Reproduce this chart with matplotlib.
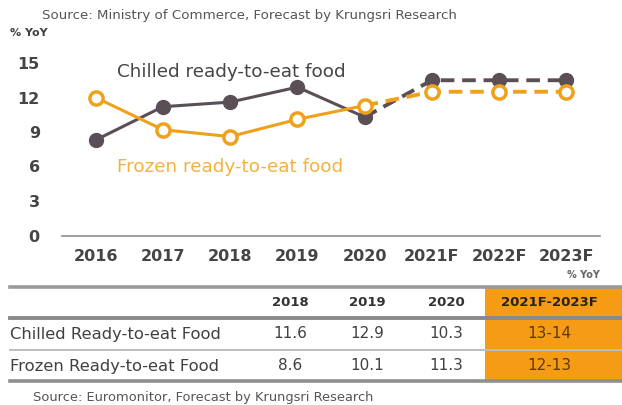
import matplotlib
matplotlib.use("Agg")
import matplotlib.pyplot as plt
from matplotlib.patches import Rectangle
from matplotlib.lines import Line2D

# ---- data ----
years = ["2016", "2017", "2018", "2019", "2020", "2021F", "2022F", "2023F"]
chilled = [8.3, 11.2, 11.6, 12.9, 10.3, 13.5, 13.5, 13.5]
frozen = [12.0, 9.2, 8.6, 10.1, 11.3, 12.5, 12.5, 12.5]
n_actual = 5  # 2016-2020 are actual, the rest are forecasts
yticks = [0, 3, 6, 9, 12, 15]

table_cols = ["2018", "2019", "2020", "2021F-2023F"]
table_rows = ["Chilled Ready-to-eat Food", "Frozen Ready-to-eat Food"]
table_chilled = ["11.6", "12.9", "10.3", "13-14"]
table_frozen = ["8.6", "10.1", "11.3", "12-13"]

# ---- style ----
FONT = "DejaVu Sans"
DARK = "#5b4f57"
ORANGE = "#f0a11c"
TEXT = "#404040"
W, H = 622, 405

fig = plt.figure(figsize=(W / 100, H / 100), dpi=100)
fig.patch.set_facecolor("white")


def fx(px):
    return px / W


def fy(py):
    return 1 - py / H


# ---- line chart ----
ax_l, ax_r, ax_t, ax_b = 62, 600, 63, 235.5
ax = fig.add_axes([fx(ax_l), fy(ax_b), fx(ax_r - ax_l), (ax_b - ax_t) / H])
x = list(range(len(years)))

ax.plot(x[:n_actual], chilled[:n_actual], color=DARK, lw=2.2, zorder=3)
ax.plot(x[n_actual - 1:], chilled[n_actual - 1:], color=DARK, lw=2.8,
        ls=(0, (3.5, 2.0)), zorder=3)
ax.plot(x, chilled, ls="none", marker="o", ms=10, color=DARK, zorder=4,
        clip_on=False)

ax.plot(x[:n_actual], frozen[:n_actual], color=ORANGE, lw=2.2, zorder=3)
ax.plot(x[n_actual - 1:], frozen[n_actual - 1:], color=ORANGE, lw=2.8,
        ls=(0, (3.5, 2.0)), zorder=3)
ax.plot(x, frozen, ls="none", marker="o", ms=9.5, mfc="white", mec=ORANGE,
        mew=2.5, zorder=5, clip_on=False)

ax.set_xlim(-0.5, 7.5)
ax.set_ylim(0, 15)
ax.set_yticks(yticks)
ax.set_xticks(x)
ax.set_xticklabels(years)
for s in ["top", "right", "left"]:
    ax.spines[s].set_visible(False)
ax.spines["bottom"].set_color("#8c8c8c")
ax.spines["bottom"].set_linewidth(1.2)
ax.tick_params(length=0, labelsize=11.5, labelcolor="#454545")
ax.tick_params(axis="x", pad=10)
ax.tick_params(axis="y", pad=16)
for lab in ax.get_xticklabels() + ax.get_yticklabels():
    lab.set_fontfamily(FONT)
    lab.set_fontweight("bold")

ax.text(0.32, 14.2, "Chilled ready-to-eat food", color="#454545",
        fontsize=13.2, fontfamily=FONT, va="center", ha="left")
ax.text(0.32, 6.0, "Frozen ready-to-eat food", color="#f3b23f",
        fontsize=13.2, fontfamily=FONT, va="center", ha="left")

# ---- header texts ----
fig.text(fx(42), fy(15), "Source: Ministry of Commerce, Forecast by Krungsri Research",
         fontsize=9.6, color="#555555", fontfamily=FONT,
         va="center", ha="left")
fig.text(fx(10), fy(33), "% YoY", fontsize=8, color=TEXT, fontfamily=FONT,
         fontweight="bold", va="center", ha="left")

# ---- summary table ----
tab = fig.add_axes([0, 0, 1, 1])
tab.set_xlim(0, W)
tab.set_ylim(H, 0)
tab.axis("off")

tab.add_patch(Rectangle((485, 287), W - 485, 94, facecolor="#f59c14",
                        edgecolor="none", zorder=1))

for y, lw, c in [(287, 2.6, "#9a9a9a"), (317.5, 2.8, "#8a8a8a"),
                 (350, 1.4, "#bdbdbd"), (381, 2.6, "#8f8f8f")]:
    tab.add_line(Line2D([10, W], [y, y], lw=lw, color=c, zorder=2))

tab.text(600, 275, "% YoY", fontsize=7, color="#666666", fontfamily=FONT,
         fontweight="bold", ha="right", va="center")

col_x = [290, 367, 446, 549]
for cx, lab in zip(col_x, table_cols):
    tab.text(cx, 302, lab, fontsize=9.5, fontweight="bold", fontfamily=FONT,
             color="#2b2020" if lab.endswith("F") else "#333333",
             ha="center", va="center", zorder=3)

row_y = [334, 366]
for ry, name, vals in zip(row_y, table_rows, [table_chilled, table_frozen]):
    tab.text(10, ry, name, fontsize=11.8, fontfamily=FONT, color=TEXT,
             ha="left", va="center", zorder=3)
    for cx, v in zip(col_x, vals):
        forecast = cx == col_x[-1]
        tab.text(cx, ry, v, fontsize=11, fontfamily=FONT,
                 color="#5a3b0c" if forecast else TEXT,
                 ha="center", va="center", zorder=3)

tab.text(33, 397, "Source: Euromonitor, Forecast by Krungsri Research",
         fontsize=9.4, color="#555555", fontfamily=FONT,
         ha="left", va="center")

fig.savefig("out.png", dpi=100, facecolor="white")
